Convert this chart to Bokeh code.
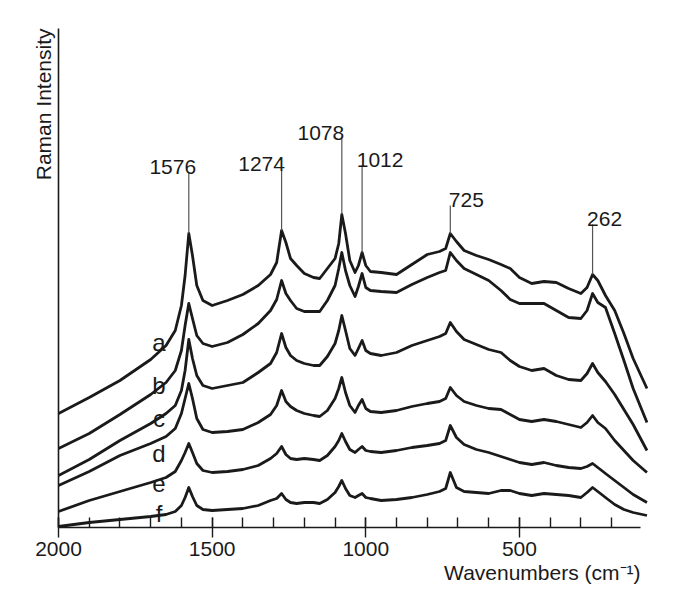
import numpy as np
from bokeh.plotting import figure
from bokeh.models import Range1d, SingleIntervalTicker, FixedTicker, Label, Title
from bokeh.embed import file_html
from bokeh.resources import INLINE

# Wavenumber grid (cm-1)
wavenumbers = [2000, 1900, 1800, 1700, 1650, 1620, 1600, 1588, 1576, 1564,
               1550, 1530, 1500, 1450, 1400, 1350, 1310, 1290, 1274, 1260,
               1245, 1225, 1200, 1170, 1150, 1125, 1100, 1088, 1078, 1066,
               1052, 1035, 1024, 1012, 1000, 985, 950, 900, 850, 800,
               760, 740, 725, 705, 680, 640, 600, 560, 530, 500,
               460, 420, 380, 340, 300, 280, 262, 245, 220, 190,
               160, 130, 85]

spec_a = [114, 130, 147, 168, 182, 197, 222, 252, 294, 272,
          242, 227, 222, 227, 233, 242, 253, 265, 297, 285,
          269, 262, 254, 250, 249, 259, 269, 284, 313, 294,
          267, 255, 262, 275, 262, 256, 255, 253, 263, 273,
          276, 279, 294, 286, 277, 272, 268, 263, 259, 250,
          244, 246, 245, 239, 234, 240, 253, 247, 232, 217,
          194, 169, 139]

spec_b = [79, 94, 113, 133, 145, 157, 177, 202, 224, 209,
          192, 184, 181, 185, 193, 204, 217, 228, 247, 234,
          227, 219, 216, 216, 216, 227, 242, 259, 275, 257,
          242, 231, 241, 254, 240, 237, 236, 235, 243, 250,
          255, 257, 275, 267, 259, 253, 247, 237, 228, 224,
          224, 224, 217, 210, 209, 217, 234, 225, 220, 194,
          167, 139, 105]

spec_c = [52, 68, 87, 104, 114, 122, 137, 157, 188, 169,
          152, 142, 139, 142, 145, 155, 164, 175, 194, 180,
          172, 167, 164, 162, 162, 171, 184, 197, 212, 197,
          179, 172, 179, 187, 177, 174, 172, 175, 182, 187,
          191, 194, 205, 196, 188, 183, 178, 175, 167, 161,
          157, 159, 152, 148, 147, 154, 164, 155, 146, 133,
          118, 103, 77]

spec_d = [42, 56, 72, 84, 91, 99, 114, 129, 144, 129,
          109, 98, 95, 96, 98, 105, 113, 122, 137, 126,
          121, 117, 114, 112, 111, 117, 129, 139, 150, 135,
          122, 115, 122, 128, 119, 116, 115, 117, 121, 124,
          126, 129, 140, 132, 126, 122, 119, 118, 113, 108,
          106, 108, 106, 103, 100, 105, 112, 105, 99, 87,
          77, 67, 55]

spec_e = [16, 27, 36, 45, 50, 56, 67, 75, 84, 75,
          64, 57, 55, 56, 58, 62, 69, 74, 81, 73,
          69, 68, 69, 68, 67, 72, 81, 87, 94, 86,
          78, 75, 78, 81, 77, 76, 75, 77, 80, 82,
          84, 87, 102, 90, 83, 78, 75, 71, 68, 65,
          63, 65, 62, 60, 59, 61, 64, 60, 54, 47,
          40, 33, 25]

spec_f = [1, 5, 8, 11, 13, 16, 22, 30, 40, 31,
          22, 18, 17, 18, 19, 22, 27, 29, 34, 28,
          25, 24, 25, 25, 24, 28, 35, 41, 47, 39,
          32, 30, 32, 34, 30, 29, 27, 28, 30, 33,
          36, 39, 55, 40, 36, 35, 34, 37, 37, 34,
          32, 34, 33, 32, 30, 35, 40, 36, 30, 23,
          18, 15, 12]

series_names = ["a", "b", "c", "d", "e", "f"]
series = [spec_a, spec_b, spec_c, spec_d, spec_e, spec_f]
letter_y = [185, 142, 109, 74, 44, 14]
letter_x = 1673

peaks = [1576, 1274, 1078, 1012, 725, 262]
peak_text_y = [361, 364, 395, 368, 328, 309]
peak_text_dx = [-16, -20, -21, 18, 16, 12]

FONT = "Liberation Sans"
INK = "#1a1a1a"

p = figure(width=675, height=600, output_backend="svg", toolbar_location=None,
           x_range=Range1d(2000, 80), y_range=Range1d(0, 499),
           min_border_left=58, min_border_right=27, min_border_top=28,
           min_border_bottom=73)
p.outline_line_color = None
p.grid.visible = False
p.background_fill_color = "white"

for s in series:
    p.line(wavenumbers, s, line_color=INK, line_width=2.8, line_join="round")

# peak marker lines
wn_rev = wavenumbers[::-1]
a_rev = spec_a[::-1]
a_at = [float(np.interp(pk, wn_rev, a_rev)) for pk in peaks]
p.segment(x0=peaks, y0=a_at, x1=peaks, y1=[t - 6 for t in peak_text_y],
          line_color="#555555", line_width=1.2)

for pk, ty, dx in zip(peaks, peak_text_y, peak_text_dx):
    p.add_layout(Label(x=pk, y=ty, x_offset=dx, text=str(pk), text_align="center",
                       text_baseline="alphabetic", text_font=FONT,
                       text_font_size="21px", text_color=INK))

for name, ly in zip(series_names, letter_y):
    p.add_layout(Label(x=letter_x, y=ly, text=name, text_align="center",
                       text_baseline="alphabetic", text_font=FONT,
                       text_font_size="24px", text_color=INK))

# x axis
xa = p.xaxis[0]
xa.ticker = SingleIntervalTicker(interval=500, num_minor_ticks=5)
xa.bounds = (106, 2000)
xa.major_tick_in = 10
xa.major_tick_out = 10
xa.minor_tick_in = 10
xa.minor_tick_out = 0
xa.axis_line_width = 1.6
xa.major_tick_line_width = 1.4
xa.minor_tick_line_width = 1.4
xa.axis_line_color = INK
xa.major_tick_line_color = INK
xa.minor_tick_line_color = INK
xa.major_label_standoff = 4
xa.major_label_text_font = FONT
xa.major_label_text_font_size = "21px"
xa.major_label_text_color = INK

# y axis: bare line
ya = p.yaxis[0]
ya.ticker = FixedTicker(ticks=[])
ya.major_label_text_font_size = "0px"
ya.major_tick_in = 0
ya.major_tick_out = 0
ya.minor_tick_in = 0
ya.minor_tick_out = 0
ya.axis_line_width = 1.6
ya.axis_line_color = INK

p.add_layout(Title(text="Raman Intensity", align="right", text_font=FONT,
                   text_font_size="21px", text_font_style="normal",
                   text_color=INK, standoff=7), "left")
p.add_layout(Title(text="Wavenumbers (cm\u207b\u00b9)", align="right", offset=8,
                   text_font=FONT, text_font_size="21px", text_font_style="normal",
                   text_color=INK, standoff=0), "below")

open("out.html", "w").write(file_html(p, INLINE))
